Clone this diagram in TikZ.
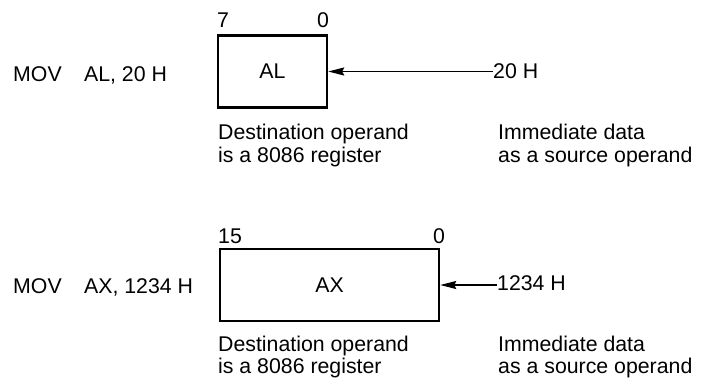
\documentclass[tikz,border=0pt]{standalone}
\usepackage{fontspec}
\setmainfont{Liberation Sans}
\usetikzlibrary{arrows.meta}
\begin{document}
\begin{tikzpicture}[x=1pt,y=-1pt,
  txt/.style={inner sep=0pt,font=\fontsize{21.3}{23}\selectfont},
  reg/.style={draw,line width=2.4pt,inner sep=0pt},
  arr/.style={line width=1.6pt,-{Stealth[length=16pt,width=8pt,inset=2pt]}}]
\useasboundingbox (0,0) rectangle (709,383);
% top
\node[txt,anchor=base west] (mov1) at (13,81) {MOV\hspace{1.05em}AL, 20 H};
\node[reg,minimum width=109pt,minimum height=72pt] (al) at (272.5,71.5) {};
\node[txt] (allbl) at (al.center) {AL};
\node[txt,anchor=base] (b7) at (223,27) {7};
\node[txt,anchor=base] (b0a) at (323,27) {0};
\node[txt,anchor=base west] (src1) at (493,78) {20 H};
\draw[arr] (src1.west |- al.east) -- (al.east);
\node[txt,anchor=base west] (d1a) at (218,139) {Destination operand};
\node[txt,anchor=base west] (d1b) at (218,162) {is a 8086 register};
\node[txt,anchor=base west] (i1a) at (498,139) {Immediate data};
\node[txt,anchor=base west] (i1b) at (498,162) {as a source operand};
% bottom
\node[txt,anchor=base west] (mov2) at (13,293) {MOV\hspace{1.05em}AX, 1234 H};
\node[reg,minimum width=219pt,minimum height=72pt] (ax) at (329.5,285) {};
\node[txt] (axlbl) at (ax.center) {AX};
\node[txt,anchor=base] (b15) at (230,243) {15};
\node[txt,anchor=base] (b0b) at (439,243) {0};
\node[txt,anchor=base west] (src2) at (497,290) {1234 H};
\draw[arr] (src2.west |- ax.east) -- (ax.east);
\node[txt,anchor=base west] (d2a) at (218,351) {Destination operand};
\node[txt,anchor=base west] (d2b) at (218,373) {is a 8086 register};
\node[txt,anchor=base west] (i2a) at (498,351) {Immediate data};
\node[txt,anchor=base west] (i2b) at (498,373) {as a source operand};
\end{tikzpicture}
\end{document}
